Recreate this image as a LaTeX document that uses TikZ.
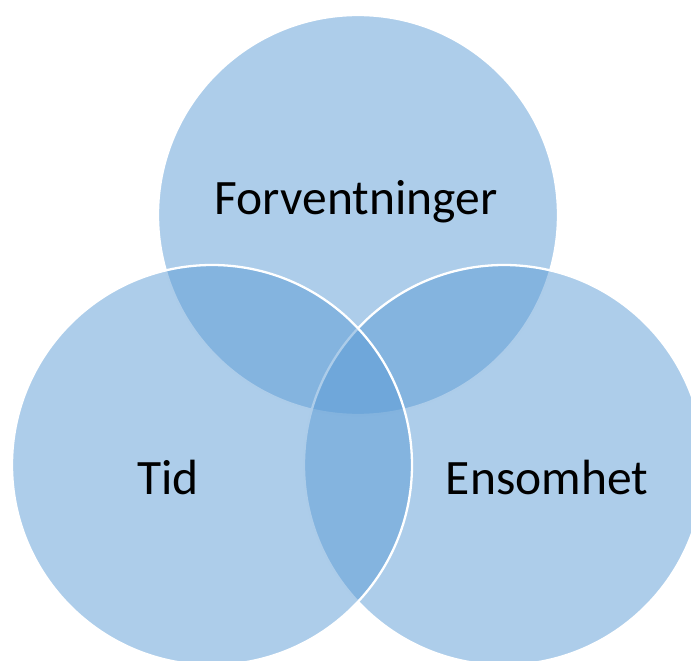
\documentclass[tikz,border=0pt]{standalone}
\usepackage{fontspec}
\setmainfont{Carlito}
\definecolor{vennblue}{HTML}{5B9BD5}
\begin{document}
\begin{tikzpicture}[x=1pt,y=-1pt,
  venn/.style={fill=vennblue,fill opacity=0.5,draw=white,line width=2.3pt},
  lbl/.style={font=\fontsize{49.5}{54}\selectfont,text=black,anchor=base,inner sep=0pt}]
\useasboundingbox (0,0) rectangle (691,661);
\clip (0,0) rectangle (691,661);
\path[venn] (358,215) circle[radius=200];
\path[venn] (504,465) circle[radius=200];
\path[venn] (212,465) circle[radius=200];
\node[lbl] (forv) at (356,214) {Forventninger};
\node[lbl] (tid) at (168,494) {Tid};
\node[lbl] (ens) at (547,494) {Ensomhet};
\end{tikzpicture}
\end{document}
